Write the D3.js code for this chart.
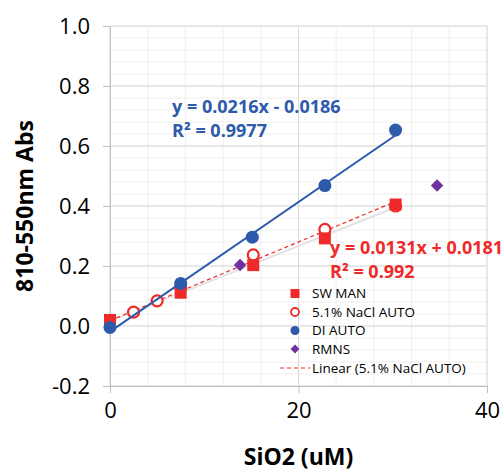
<!DOCTYPE html>
<html>
<head>
<meta charset="utf-8">
<script src="https://cdn.jsdelivr.net/npm/d3@7"></script>
<style>
  body { margin: 0; background: #fff; }
  text { font-family: "Open Sans", sans-serif; }
</style>
</head>
<body>
<div id="chart"></div>
<script>
// data
var swX = [0, 7.5, 15.2, 22.8, 30.3];
var swY = [0.020, 0.111, 0.203, 0.292, 0.405];
var naclX = [2.5, 5, 7.5, 15.2, 22.8, 30.3];
var naclY = [0.046, 0.084, 0.130, 0.237, 0.322, 0.400];
var diX = [0, 7.5, 15.1, 22.8, 30.3];
var diY = [-0.005, 0.142, 0.296, 0.468, 0.653];
var rmnsX = [13.8, 34.7];
var rmnsY = [0.203, 0.468];

var xTicks = [0, 20, 40];
var yTicks = [-0.2, 0, 0.2, 0.4, 0.6, 0.8, 1.0];

// fitted lines shown on the chart
var diFit = {slope: 0.0216, icpt: -0.0186, x0: 0, x1: 30.3};
var naclFit = {slope: 0.0131, icpt: 0.0181, x0: 0, x1: 30.3};

var legendNames = ["SW MAN", "5.1% NaCl AUTO", "DI AUTO", "RMNS", "Linear (5.1% NaCl AUTO)"];

var width = 503, height = 471;
var margin = {left: 110, right: 16, top: 26, bottom: 85};

var red = "#ee2a2a", blue = "#2e5aac", purple = "#7030a0";

var svg = d3.select("#chart").append("svg")
    .attr("width", width).attr("height", height);

var xScale = d3.scaleLinear().domain([0, 40]).range([margin.left, width - margin.right]);
var yScale = d3.scaleLinear().domain([-0.2, 1.0]).range([height - margin.bottom, margin.top]);

function zip(xs, ys) {
  return xs.map(function(x, i) { return {x: x, y: ys[i]}; });
}

// minor grid
var minorX = d3.range(0, 40.01, 4);
var minorY = d3.range(-0.2, 1.001, 0.04);
svg.append("g").selectAll("line").data(minorX).enter().append("line")
    .attr("x1", function(d) { return xScale(d); }).attr("x2", function(d) { return xScale(d); })
    .attr("y1", yScale(-0.2)).attr("y2", yScale(1))
    .attr("stroke", "#efefef").attr("stroke-width", 1);
svg.append("g").selectAll("line").data(minorY).enter().append("line")
    .attr("y1", function(d) { return yScale(d); }).attr("y2", function(d) { return yScale(d); })
    .attr("x1", xScale(0)).attr("x2", xScale(40))
    .attr("stroke", "#efefef").attr("stroke-width", 1);

// major grid
svg.append("g").selectAll("line").data(xTicks).enter().append("line")
    .attr("x1", function(d) { return xScale(d); }).attr("x2", function(d) { return xScale(d); })
    .attr("y1", yScale(-0.2)).attr("y2", yScale(1))
    .attr("stroke", "#d9d9d9").attr("stroke-width", 1);
svg.append("g").selectAll("line").data(yTicks).enter().append("line")
    .attr("y1", function(d) { return yScale(d); }).attr("y2", function(d) { return yScale(d); })
    .attr("x1", xScale(0)).attr("x2", xScale(40))
    .attr("stroke", "#d9d9d9").attr("stroke-width", 1);

// axes (hyphen minus like Excel)
var yAxis = d3.axisLeft(yScale).tickValues(yTicks).tickSize(7)
    .tickFormat(function(d) { return d.toFixed(1).replace("\u2212", "-"); });
var gy = svg.append("g").attr("transform", "translate(" + xScale(0) + ",0)").call(yAxis);
var xAxis = d3.axisBottom(xScale).tickValues(xTicks).tickSize(7).tickFormat(d3.format("d"));
var gx = svg.append("g").attr("transform", "translate(0," + yScale(-0.2) + ")").call(xAxis);

[gx, gy].forEach(function(g) {
  g.select(".domain").attr("stroke", "#bfbfbf");
  g.selectAll(".tick line").attr("stroke", "#bfbfbf");
  g.selectAll(".tick text").attr("fill", "#000")
    .style("font-family", "Open Sans").style("font-size", "22px");
});
gy.selectAll(".tick text").attr("x", -20).attr("dy", "0.35em");
gx.selectAll(".tick text").attr("y", 16).attr("dy", "0.71em");

// axis titles
svg.append("text")
    .attr("text-anchor", "middle")
    .attr("transform", "translate(" + [33, (yScale(-0.2) + yScale(1)) / 2] + ") rotate(-90)")
    .style("font-size", "23px").style("font-weight", "bold")
    .text("810-550nm Abs");
svg.append("text")
    .attr("text-anchor", "middle")
    .attr("x", (xScale(0) + xScale(40)) / 2).attr("y", 465)
    .style("font-size", "23px").style("font-weight", "bold")
    .text("SiO2 (uM)");

// SW MAN least-squares line (faint gray)
var swData = zip(swX, swY);
var mx = d3.mean(swX), my = d3.mean(swY);
var sSlope = d3.sum(swData, function(d) { return (d.x - mx) * (d.y - my); }) /
             d3.sum(swData, function(d) { return (d.x - mx) * (d.x - mx); });
var sIcpt = my - sSlope * mx;
var line = d3.line().x(function(d) { return xScale(d.x); }).y(function(d) { return yScale(d.y); });
svg.append("path")
    .datum([{x: 0, y: sIcpt}, {x: 30.3, y: sIcpt + sSlope * 30.3}])
    .attr("d", line).attr("fill", "none").attr("stroke", "#e3e3e3").attr("stroke-width", 2);

// NaCl trend (dashed red)
svg.append("path")
    .datum([naclFit.x0, naclFit.x1].map(function(x) { return {x: x, y: naclFit.slope * x + naclFit.icpt}; }))
    .attr("d", line).attr("fill", "none").attr("stroke", red).attr("stroke-width", 1.2)
    .attr("stroke-dasharray", "4,3");

// markers
svg.append("g").selectAll("circle").data(zip(naclX, naclY)).enter().append("circle")
    .attr("cx", function(d) { return xScale(d.x); })
    .attr("cy", function(d) { return yScale(d.y); })
    .attr("r", 5.5).attr("fill", "#fff").attr("stroke", red).attr("stroke-width", 2.2);

svg.append("g").selectAll("rect").data(swData).enter().append("rect")
    .attr("x", function(d) { return xScale(d.x) - 6; })
    .attr("y", function(d) { return yScale(d.y) - 6; })
    .attr("width", 12).attr("height", 12).attr("fill", red);

// DI trend (solid blue)
svg.append("path")
    .datum([diFit.x0, diFit.x1].map(function(x) { return {x: x, y: diFit.slope * x + diFit.icpt}; }))
    .attr("d", line).attr("fill", "none").attr("stroke", blue).attr("stroke-width", 2);

svg.append("g").selectAll("circle").data(zip(diX, diY)).enter().append("circle")
    .attr("cx", function(d) { return xScale(d.x); })
    .attr("cy", function(d) { return yScale(d.y); })
    .attr("r", 6.5).attr("fill", blue);

var diamond = d3.symbol().type(d3.symbolDiamond2).size(100);
svg.append("g").selectAll("path").data(zip(rmnsX, rmnsY)).enter().append("path")
    .attr("transform", function(d) { return "translate(" + [xScale(d.x), yScale(d.y)] + ")"; })
    .attr("d", diamond).attr("fill", purple);

// equations
var eqBlue = svg.append("text").attr("x", 172).attr("y", 113)
    .attr("fill", blue).style("font-size", "18px").style("font-weight", "bold");
eqBlue.append("tspan").attr("x", 172).text("y = 0.0216x - 0.0186");
eqBlue.append("tspan").attr("x", 172).attr("dy", 24).text("R² = 0.9977");

var eqRed = svg.append("text").attr("x", 330).attr("y", 254)
    .attr("fill", red).style("font-size", "18px").style("font-weight", "bold");
eqRed.append("tspan").attr("x", 330).text("y = 0.0131x + 0.0181");
eqRed.append("tspan").attr("x", 330).attr("dy", 24).text("R² = 0.992");

// legend
var legend = svg.append("g");
var rowY = [293.5, 312, 330.5, 349, 368];
legendNames.forEach(function(name, i) {
  var g = legend.append("g").attr("transform", "translate(295," + rowY[i] + ")");
  if (i == 0) g.append("rect").attr("x", -4.5).attr("y", -4.5).attr("width", 9).attr("height", 9).attr("fill", red);
  if (i == 1) g.append("circle").attr("r", 4).attr("fill", "#fff").attr("stroke", red).attr("stroke-width", 1.8);
  if (i == 2) g.append("circle").attr("r", 4.5).attr("fill", blue);
  if (i == 3) g.append("path").attr("d", d3.symbol().type(d3.symbolDiamond2).size(50)).attr("fill", purple);
  if (i == 4) g.append("line").attr("x1", -15).attr("x2", 15).attr("stroke", red)
      .attr("stroke-width", 1).attr("stroke-dasharray", "4,3");
  g.append("text").attr("x", 17).attr("dy", "0.35em")
    .style("font-size", "13.5px").text(name);
});
</script>
</body>
</html>
